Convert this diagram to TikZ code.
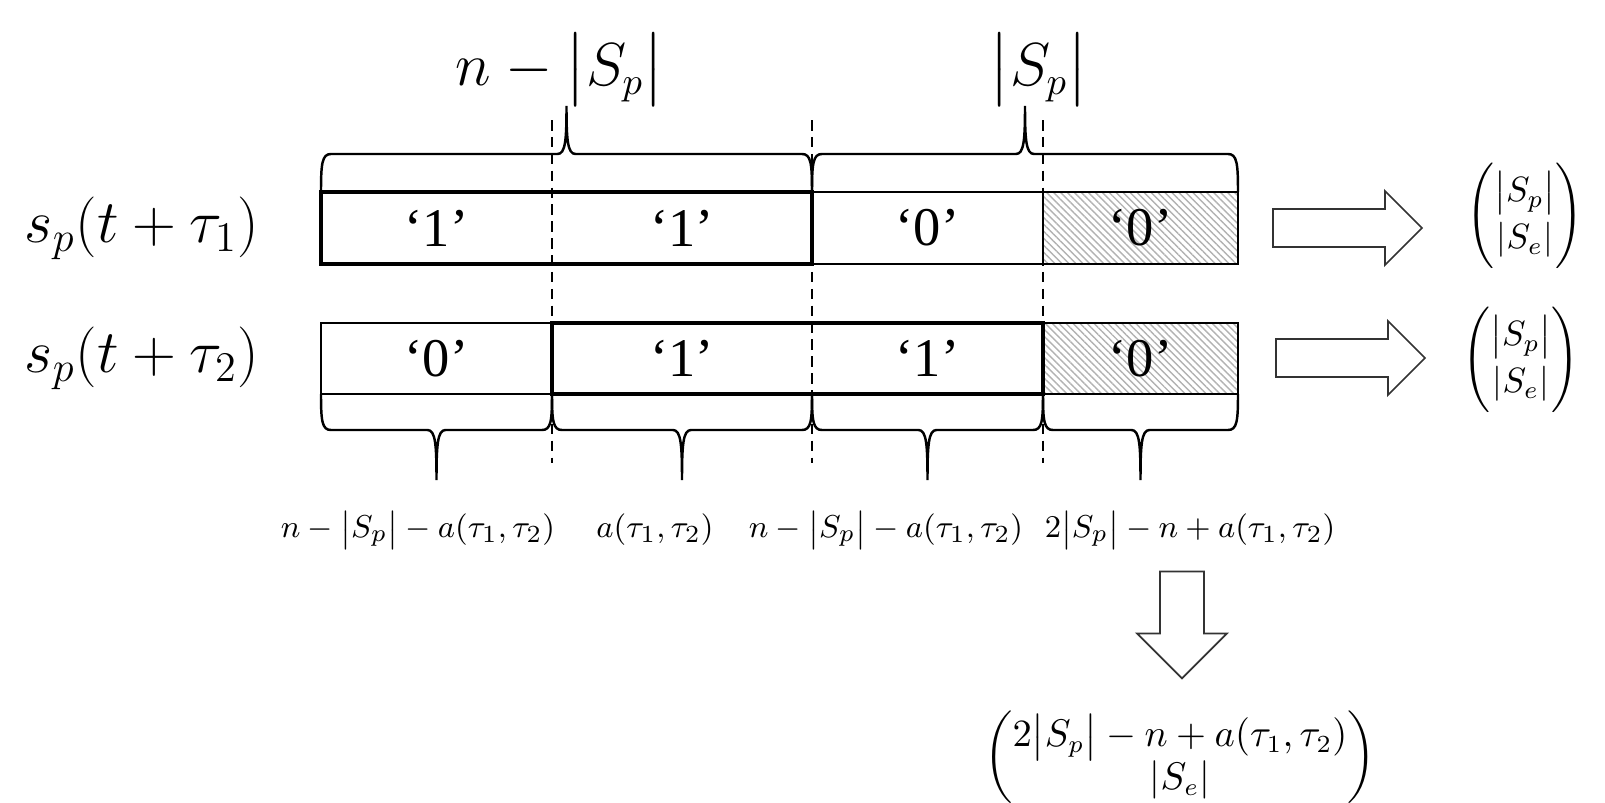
\documentclass[tikz,border=0pt]{standalone}
\usepackage{amsmath}
\usepackage{fontspec}
\setmainfont{Liberation Serif}
\usetikzlibrary{calc,shapes.arrows,patterns.meta}
\newcommand{\wbrace}[4]{%
  \coordinate (bm) at ($(#1)!0.5!(#2)$);
  \draw[brc] (#1) .. controls ($(#1)+(0,{0.75*(#3)})$) and ($(#1)+(1,#3)$) .. ($(#1)+(10,#3)$)
    -- ($(bm)+(-9,#3)$) .. controls ($(bm)+(-1,#3)$) and ($(bm)+(0,{(#3)+0.3*(#4)})$) .. ($(bm)+(0,{(#3)+(#4)})$)
    .. controls ($(bm)+(0,{(#3)+0.3*(#4)})$) and ($(bm)+(1,#3)$) .. ($(bm)+(9,#3)$)
    -- ($(#2)+(-10,#3)$) .. controls ($(#2)+(-1,#3)$) and ($(#2)+(0,{0.75*(#3)})$) .. (#2);
}
\newcommand{\absSp}{\bigl|S_p\bigr|}
\begin{document}
\begin{tikzpicture}[x=0.01cm,y=-0.01cm,
  every node/.style={inner sep=0pt},
  thinbox/.style={line width=0.4pt},
  boldbox/.style={line width=1pt},
  hatchbox/.style={line width=0.6pt,pattern={Lines[angle=-45,distance=1.4pt,line width=0.4pt]},pattern color=black!30},
  divider/.style={line width=0.7pt,dash pattern=on 3pt off 1.8pt},
  brc/.style={line width=0.7pt},
  bit/.style={font=\fontsize{15.5}{18}\selectfont},
  rowlbl/.style={font=\fontsize{17}{20}\selectfont},
  toplbl/.style={font=\fontsize{16}{19}\selectfont},
  botlbl/.style={font=\fontsize{9.5}{11}\selectfont},
  vec/.style={font=\fontsize{10}{13.4}\selectfont},
  blockarrow/.style={draw=black!80,line width=0.5pt,single arrow,single arrow head extend=0.18cm,
    text height=0.36cm,text depth=0pt,minimum height=1.49cm,inner sep=0pt}]
\useasboundingbox (0,0) rectangle (1605,803);
\foreach \n/\x in {0/321,1/552,2/812,3/1043,4/1238} {
  \coordinate (a\n) at (\x,192);
  \coordinate (b\n) at (\x,264);
  \coordinate (c\n) at (\x,323);
  \coordinate (d\n) at (\x,394);
  \coordinate (t\n) at (\x,120);
  \coordinate (u\n) at (\x,463);
}
\draw[hatchbox] (a3) rectangle (b4);
\draw[hatchbox] (c3) rectangle (d4);
\draw[thinbox] (a2) rectangle (b3);
\draw[thinbox] (c0) rectangle (d1);
\draw[boldbox] (a0) rectangle (b2);
\draw[boldbox] (c1) rectangle (d3);
\node[bit] (r1c1) at ($(a0)!0.5!(b1)$) {‘1’};
\node[bit] (r1c2) at ($(a1)!0.5!(b2)$) {‘1’};
\node[bit] (r1c3) at ($(a2)!0.5!(b3)$) {‘0’};
\node[bit] (r1c4) at ($(a3)!0.5!(b4)$) {‘0’};
\node[bit] (r2c1) at ($(c0)!0.5!(d1)$) {‘0’};
\node[bit] (r2c2) at ($(c1)!0.5!(d2)$) {‘1’};
\node[bit] (r2c3) at ($(c2)!0.5!(d3)$) {‘1’};
\node[bit] (r2c4) at ($(c3)!0.5!(d4)$) {‘0’};
\foreach \n in {1,2,3}
  \draw[divider] (t\n) -- (u\n);
\wbrace{a0}{a2}{-38}{-48}
\wbrace{a2}{a4}{-38}{-48}
\wbrace{d0}{d1}{36}{50}
\wbrace{d1}{d2}{36}{50}
\wbrace{d2}{d3}{36}{50}
\wbrace{d3}{d4}{36}{50}
\node[toplbl] (lenA) at (560,70) {$n-\absSp$};
\node[toplbl] (lenB) at (1039,70) {$\absSp$};
\node[rowlbl] (sig1) at (142,228) {$s_p(t+\tau_1)$};
\node[rowlbl] (sig2) at (142,358) {$s_p(t+\tau_2)$};
\node[botlbl] (cnt1) at (418,530) {$n-\absSp-a(\tau_1,\tau_2)$};
\node[botlbl] (cnt2) at (655,530) {$a(\tau_1,\tau_2)$};
\node[botlbl] (cnt3) at (886,530) {$n-\absSp-a(\tau_1,\tau_2)$};
\node[botlbl] (cnt4) at (1190,530) {$2\absSp-n+a(\tau_1,\tau_2)$};
\node[blockarrow] (arrA) at (1338,228) {};
\node[blockarrow] (arrB) at (1341,358) {};
\node[blockarrow,rotate=-90,single arrow head extend=0.23cm,text height=0.42cm,minimum height=1.07cm] (arrC) at (1182,614) {};
\node[vec] (vecA) at (1525,216) {$\Biggl(\begin{matrix}\absSp\\ |S_e|\end{matrix}\Biggr)$};
\node[vec] (vecB) at (1521,360) {$\Biggl(\begin{matrix}\absSp\\ |S_e|\end{matrix}\Biggr)$};
\node[vec,font=\fontsize{10.5}{10}\selectfont] (vecC) at (1180,757) {$\biggl(\begin{matrix}2\absSp-n+a(\tau_1,\tau_2)\\ |S_e|\end{matrix}\biggr)$};
\end{tikzpicture}
\end{document}
